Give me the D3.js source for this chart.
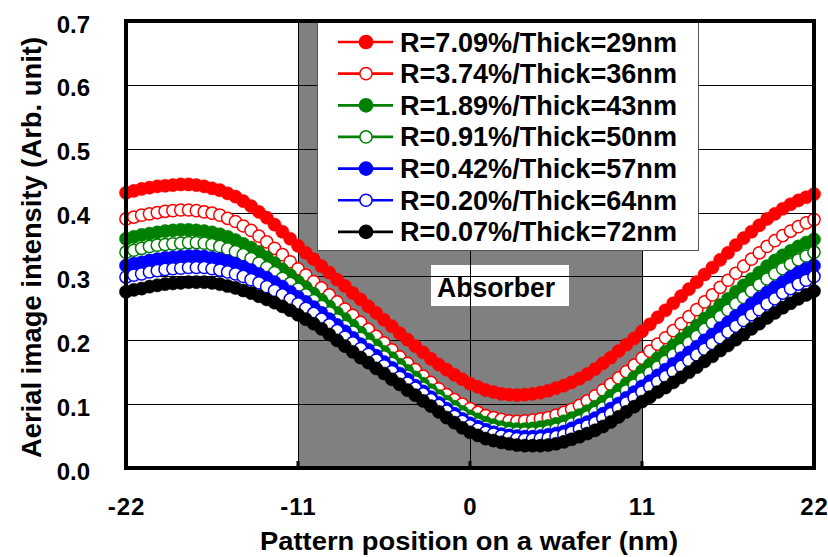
<!DOCTYPE html>
<html><head><meta charset="utf-8">
<script src="https://cdn.jsdelivr.net/npm/d3@7"></script>
<style>
html,body{margin:0;padding:0;background:#fff;}
svg{display:block;}
text{font-family:"Liberation Sans",Arial,sans-serif;font-weight:bold;fill:#000;}
</style></head><body>
<svg id="chart" width="828" height="557"></svg>
<script>
// Pattern position on the wafer (nm), sampled every 0.5 nm
const positions = [-22,-21.5,-21,-20.5,-20,-19.5,-19,-18.5,-18,-17.5,-17,-16.5,-16,-15.5,-15,-14.5,-14,-13.5,-13,-12.5,-12,-11.5,-11,-10.5,-10,-9.5,-9,-8.5,-8,-7.5,-7,-6.5,-6,-5.5,-5,-4.5,-4,-3.5,-3,-2.5,-2,-1.5,-1,-0.5,0,0.5,1,1.5,2,2.5,3,3.5,4,4.5,5,5.5,6,6.5,7,7.5,8,8.5,9,9.5,10,10.5,11,11.5,12,12.5,13,13.5,14,14.5,15,15.5,16,16.5,17,17.5,18,18.5,19,19.5,20,20.5,21,21.5,22];

// Aerial image intensity for each absorber reflectance / thickness
const r709 = [0.431,0.434,0.437,0.439,0.441,0.442,0.443,0.444,0.444,0.443,0.441,0.438,0.435,0.430,0.425,0.418,0.410,0.401,0.392,0.381,0.370,0.359,0.348,0.337,0.327,0.316,0.306,0.295,0.285,0.274,0.264,0.253,0.243,0.232,0.222,0.211,0.201,0.191,0.181,0.171,0.162,0.154,0.146,0.139,0.132,0.127,0.122,0.119,0.116,0.115,0.114,0.115,0.116,0.118,0.121,0.125,0.129,0.134,0.140,0.147,0.155,0.164,0.173,0.183,0.193,0.203,0.214,0.225,0.236,0.247,0.258,0.269,0.280,0.291,0.303,0.314,0.326,0.337,0.349,0.360,0.370,0.380,0.390,0.398,0.406,0.413,0.419,0.424,0.429];
const r374 = [0.390,0.393,0.396,0.398,0.400,0.402,0.403,0.404,0.404,0.403,0.401,0.399,0.396,0.391,0.386,0.379,0.372,0.363,0.354,0.344,0.334,0.323,0.312,0.302,0.292,0.282,0.271,0.260,0.249,0.239,0.228,0.217,0.206,0.196,0.185,0.174,0.164,0.154,0.144,0.134,0.124,0.115,0.107,0.100,0.093,0.087,0.082,0.079,0.076,0.074,0.073,0.074,0.075,0.077,0.079,0.083,0.087,0.092,0.098,0.105,0.113,0.122,0.131,0.141,0.151,0.161,0.172,0.183,0.194,0.204,0.215,0.226,0.237,0.248,0.260,0.271,0.283,0.294,0.305,0.316,0.327,0.337,0.347,0.356,0.364,0.371,0.378,0.384,0.389];
const r189 = [0.359,0.362,0.365,0.367,0.369,0.371,0.372,0.373,0.373,0.372,0.371,0.369,0.366,0.362,0.357,0.351,0.345,0.338,0.330,0.321,0.311,0.302,0.292,0.283,0.273,0.263,0.253,0.243,0.233,0.223,0.212,0.202,0.192,0.182,0.172,0.162,0.152,0.142,0.132,0.122,0.113,0.104,0.096,0.088,0.081,0.076,0.071,0.067,0.064,0.062,0.061,0.061,0.062,0.064,0.066,0.069,0.073,0.078,0.083,0.089,0.096,0.104,0.113,0.122,0.132,0.142,0.152,0.162,0.172,0.182,0.192,0.202,0.212,0.223,0.234,0.244,0.255,0.265,0.276,0.286,0.296,0.306,0.316,0.325,0.333,0.340,0.347,0.353,0.358];
const r091 = [0.338,0.341,0.344,0.347,0.349,0.350,0.351,0.352,0.353,0.353,0.352,0.350,0.347,0.343,0.339,0.334,0.328,0.321,0.314,0.306,0.297,0.289,0.280,0.271,0.262,0.253,0.243,0.232,0.222,0.213,0.203,0.193,0.183,0.174,0.164,0.154,0.144,0.135,0.125,0.116,0.107,0.098,0.090,0.082,0.075,0.069,0.064,0.061,0.058,0.056,0.055,0.055,0.055,0.056,0.058,0.061,0.064,0.069,0.074,0.080,0.087,0.094,0.102,0.111,0.121,0.130,0.140,0.149,0.158,0.167,0.177,0.186,0.196,0.206,0.217,0.227,0.237,0.247,0.257,0.267,0.277,0.287,0.296,0.304,0.312,0.319,0.326,0.332,0.338];
const r042 = [0.317,0.320,0.322,0.325,0.327,0.329,0.330,0.331,0.332,0.332,0.331,0.329,0.327,0.324,0.320,0.315,0.310,0.304,0.298,0.291,0.284,0.276,0.268,0.260,0.252,0.243,0.233,0.224,0.214,0.204,0.194,0.185,0.176,0.166,0.157,0.148,0.139,0.129,0.120,0.111,0.102,0.093,0.085,0.077,0.070,0.065,0.060,0.056,0.053,0.051,0.050,0.049,0.049,0.050,0.052,0.054,0.057,0.062,0.067,0.072,0.078,0.085,0.093,0.101,0.110,0.119,0.128,0.136,0.145,0.154,0.163,0.172,0.181,0.190,0.200,0.209,0.219,0.228,0.238,0.247,0.257,0.266,0.275,0.283,0.291,0.299,0.306,0.312,0.317];
const r020 = [0.299,0.302,0.304,0.307,0.309,0.311,0.312,0.313,0.314,0.314,0.314,0.312,0.310,0.307,0.304,0.300,0.295,0.290,0.284,0.278,0.271,0.264,0.257,0.250,0.242,0.233,0.224,0.215,0.205,0.196,0.187,0.178,0.169,0.160,0.151,0.142,0.133,0.125,0.116,0.107,0.098,0.089,0.081,0.073,0.066,0.061,0.056,0.053,0.050,0.048,0.046,0.045,0.045,0.046,0.047,0.049,0.052,0.056,0.061,0.066,0.071,0.078,0.085,0.093,0.102,0.110,0.119,0.127,0.135,0.143,0.151,0.159,0.168,0.177,0.186,0.195,0.204,0.213,0.222,0.231,0.240,0.248,0.257,0.265,0.274,0.281,0.288,0.294,0.300];
const r007 = [0.276,0.279,0.281,0.284,0.286,0.288,0.289,0.290,0.291,0.291,0.291,0.290,0.288,0.285,0.282,0.278,0.274,0.269,0.264,0.259,0.253,0.247,0.240,0.233,0.226,0.218,0.209,0.200,0.191,0.182,0.173,0.165,0.156,0.148,0.139,0.131,0.122,0.114,0.105,0.097,0.088,0.079,0.071,0.063,0.056,0.051,0.046,0.043,0.040,0.038,0.036,0.035,0.035,0.035,0.036,0.038,0.041,0.045,0.049,0.054,0.059,0.065,0.072,0.080,0.088,0.096,0.104,0.111,0.119,0.126,0.134,0.142,0.150,0.158,0.167,0.175,0.184,0.192,0.201,0.209,0.218,0.226,0.235,0.243,0.251,0.258,0.265,0.271,0.277];

const seriesLabels = ["R=7.09%/Thick=29nm","R=3.74%/Thick=36nm","R=1.89%/Thick=43nm","R=0.91%/Thick=50nm","R=0.42%/Thick=57nm","R=0.20%/Thick=64nm","R=0.07%/Thick=72nm"];
const seriesValues = [r709, r374, r189, r091, r042, r020, r007];
const seriesColors = ["#ff0000","#ff0000","#008000","#008000","#0000ff","#0000ff","#000000"];
const seriesFilled = [true,false,true,false,true,false,true];

const yTicks = [0,0.1,0.2,0.3,0.4,0.5,0.6,0.7];
const xTicks = [-22,-11,0,11,22];
const xTickLabels = ["-22","-11","0","11","22"];
const absorberSpan = [-11, 11];
const absorberLabel = "Absorber";
const xTitle = "Pattern position on a wafer (nm)";
const yTitle = "Aerial image intensity (Arb. unit)";

const svg = d3.select("#chart");
svg.append("rect").attr("width",828).attr("height",557).attr("fill","#fff");

const plot = {left:126, right:814, top:21, bottom:468};
const x = d3.scaleLinear().domain([-22,22]).range([plot.left, plot.right]);
const y = d3.scaleLinear().domain([0,0.7]).range([plot.bottom, plot.top]);

// Absorber region
svg.append("rect")
  .attr("x", x(absorberSpan[0])).attr("y", y(0.7))
  .attr("width", x(absorberSpan[1]) - x(absorberSpan[0]))
  .attr("height", y(0) - y(0.7))
  .attr("fill", "#808080");

// Absorber label box
svg.append("rect").attr("x",431).attr("y",265).attr("width",138).attr("height",41).attr("fill","#fff");
svg.append("text").attr("x",437).attr("y",297)
  .attr("font-size",28).attr("textLength",118).attr("lengthAdjust","spacingAndGlyphs")
  .text(absorberLabel);

// Gridlines
const grid = svg.append("g").attr("stroke","#000").attr("stroke-width",1);
grid.selectAll("line.h").data(yTicks.filter(v => v > 0 && v < 0.7)).join("line")
  .attr("class","h")
  .attr("x1",plot.left).attr("x2",plot.right)
  .attr("y1",d => Math.round(y(d)) + 0.5).attr("y2",d => Math.round(y(d)) + 0.5);
grid.selectAll("line.v").data(xTicks.filter(v => v > -22 && v < 22)).join("line")
  .attr("class","v")
  .attr("x1",d => Math.round(x(d)) + 0.5).attr("x2",d => Math.round(x(d)) + 0.5)
  .attr("y1",plot.top).attr("y2",plot.bottom);

// Small inner tick marks on the bottom axis
svg.append("g").selectAll("line").data(xTicks.filter(v => v > -22 && v < 22)).join("line")
  .attr("x1",d => x(d)).attr("x2",d => x(d))
  .attr("y1",plot.bottom).attr("y2",plot.bottom - 7)
  .attr("stroke","#000").attr("stroke-width",3);

// Series
const line = d3.line().x((d,i) => x(positions[i])).y(d => y(d));
seriesValues.forEach((vals, k) => {
  const g = svg.append("g");
  const c = seriesColors[k];
  g.append("path").attr("d", line(vals)).attr("fill","none").attr("stroke",c).attr("stroke-width",2);
  g.selectAll("circle").data(vals).join("circle")
    .attr("cx",(d,i) => x(positions[i]))
    .attr("cy",d => y(d))
    .attr("r", seriesFilled[k] ? 6.6 : 6.1)
    .attr("fill", seriesFilled[k] ? c : "#fff")
    .attr("stroke", c)
    .attr("stroke-width", seriesFilled[k] ? 0.5 : 1.5);
});

// Legend
const legend = svg.append("g");
legend.append("rect").attr("x",317.5).attr("y",21.5).attr("width",381).attr("height",229)
  .attr("fill","#fff").attr("stroke","#555").attr("stroke-width",1);
seriesLabels.forEach((lab, k) => {
  const cy = 42 + k * 31.65;
  const c = seriesColors[k];
  legend.append("line").attr("x1",338).attr("x2",393).attr("y1",cy).attr("y2",cy)
    .attr("stroke",c).attr("stroke-width",2.7);
  legend.append("circle").attr("cx",366).attr("cy",cy).attr("r",seriesFilled[k] ? 6.6 : 6.1)
    .attr("fill", seriesFilled[k] ? c : "#fff").attr("stroke",c).attr("stroke-width",1.5);
  legend.append("text").attr("x",400).attr("y",cy + 9.5)
    .attr("font-size",27).attr("textLength",277).attr("lengthAdjust","spacingAndGlyphs")
    .text(lab);
});

// Axes labels
const yAxis = svg.append("g").attr("transform",`translate(${plot.left},0)`)
  .call(d3.axisLeft(y).tickValues(yTicks).tickFormat(d3.format(".1f")).tickSize(0).tickPadding(36));
yAxis.select(".domain").remove();
yAxis.selectAll("text").attr("font-size",24).attr("dy","0.46em")
  .style("font-family",'"Liberation Sans",Arial,sans-serif').style("font-weight","bold");

const xAxis = svg.append("g").attr("transform",`translate(0,${plot.bottom})`)
  .call(d3.axisBottom(x).tickValues(xTicks).tickFormat((d,i) => xTickLabels[i]).tickSize(0).tickPadding(30));
xAxis.select(".domain").remove();
xAxis.selectAll("text").attr("font-size",24).attr("letter-spacing","1px")
  .style("font-family",'"Liberation Sans",Arial,sans-serif').style("font-weight","bold");

// Frame
svg.append("rect").attr("x",plot.left).attr("y",plot.top)
  .attr("width",plot.right - plot.left).attr("height",plot.bottom - plot.top)
  .attr("fill","none").attr("stroke","#000").attr("stroke-width",4);

// Axis titles
svg.append("text").attr("x",469).attr("y",550).attr("text-anchor","middle")
  .attr("font-size",26).attr("textLength",418).attr("lengthAdjust","spacingAndGlyphs")
  .text(xTitle);
svg.append("text").attr("transform","translate(41,247.5) rotate(-90)").attr("text-anchor","middle")
  .attr("font-size",27).attr("textLength",421).attr("lengthAdjust","spacingAndGlyphs")
  .text(yTitle);
</script>
</body></html>
